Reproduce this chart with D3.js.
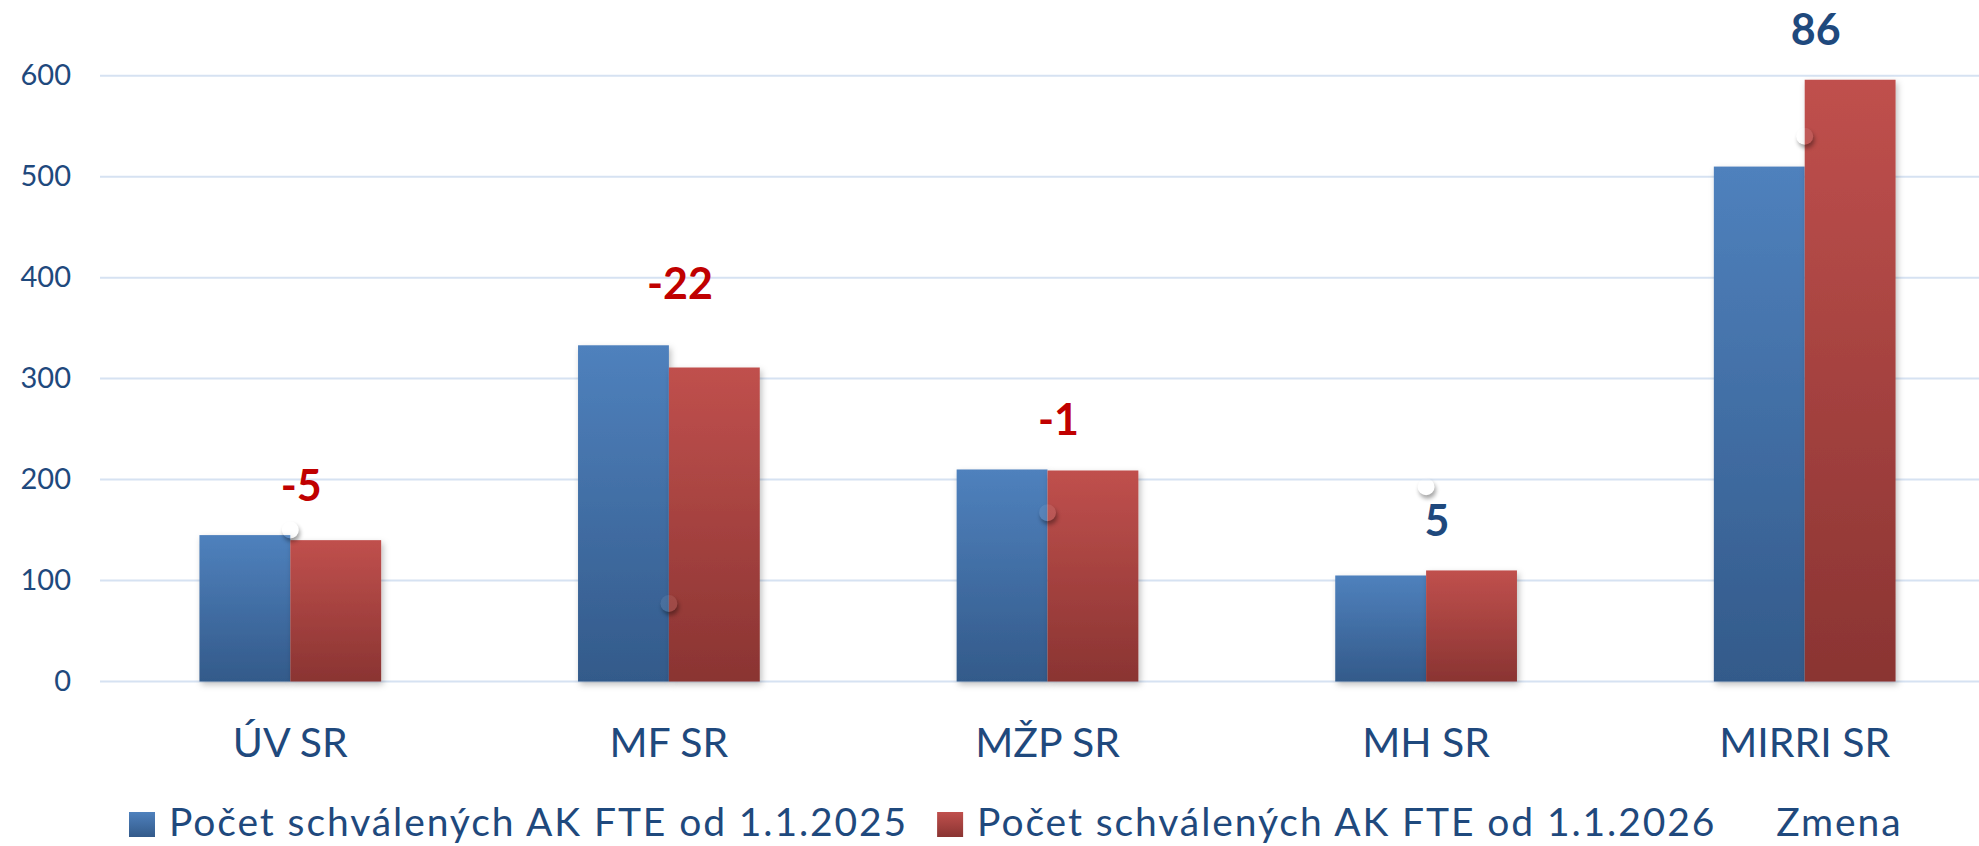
<!DOCTYPE html>
<html><head><meta charset="utf-8">
<script src="https://cdn.jsdelivr.net/npm/d3@7"></script>
<style>html,body{margin:0;padding:0;background:#fff;}svg{display:block;font-family:Lato,"Open Sans",sans-serif;}</style>
</head><body><svg id="chart" width="1979" height="846"></svg>
<script>
const categories = ["ÚV SR", "MF SR", "MŽP SR", "MH SR", "MIRRI SR"];
const series2025 = [145, 333, 210, 105, 510];
const series2026 = [140, 311, 209, 110, 596];
const zmena = [-5, -22, -1, 5, 86];
const yTicks = [0, 100, 200, 300, 400, 500, 600];
const seriesNames = ["Počet schválených AK FTE od 1.1.2025", "Počet schválených AK FTE od 1.1.2026", "Zmena"];

const W = 1979, H = 846;
const svg = d3.select("#chart");
const textColor = "#1F497D";

const plot = {left: 101, right: 1994, top: 75.7, bottom: 681.5};
const y = d3.scaleLinear().domain([0, 600]).range([plot.bottom, plot.top]);
const y2 = d3.scaleLinear().domain([-40, 100]).range([plot.bottom, plot.top]);
const x = d3.scaleBand().domain(categories).range([plot.left, plot.right]).paddingInner(0.52).paddingOuter(0.26);
const xs = d3.scaleBand().domain([0, 1]).range([0, x.bandwidth()]);

const defs = svg.append("defs");
function grad(id, top, bottom) {
  const g = defs.append("linearGradient").attr("id", id).attr("x1", 0).attr("y1", 0).attr("x2", 0).attr("y2", 1);
  g.append("stop").attr("offset", "0%").attr("stop-color", top);
  g.append("stop").attr("offset", "100%").attr("stop-color", bottom);
}
grad("gBlue", "#4F81BD", "#335A8A");
grad("gRed", "#C0504D", "#8A3432");
const f = defs.append("filter").attr("id", "barShadow").attr("x", "-10%").attr("y", "-10%").attr("width", "130%").attr("height", "130%");
f.append("feDropShadow").attr("dx", 2).attr("dy", 3).attr("stdDeviation", 3).attr("flood-color", "#000").attr("flood-opacity", 0.25);
const bf = defs.append("filter").attr("id", "blur").attr("x", "-50%").attr("y", "-50%").attr("width", "200%").attr("height", "200%");
bf.append("feGaussianBlur").attr("stdDeviation", 2.2);

// gridlines
svg.append("g").selectAll("line").data(yTicks).join("line")
  .attr("x1", 100).attr("x2", W).attr("y1", d => y(d)).attr("y2", d => y(d))
  .attr("stroke", "#D6E2F2").attr("stroke-width", 2);

// y axis labels
const yAxis = d3.axisLeft(y).tickValues(yTicks).tickSize(0).tickPadding(0);
const ya = svg.append("g").attr("transform", "translate(71,0)").call(yAxis);
ya.select(".domain").remove();
ya.selectAll("text").attr("font-size", 29).attr("fill", textColor).attr("font-family", "Lato");

// bars
const groups = svg.append("g").selectAll("g").data(categories).join("g")
  .attr("transform", d => `translate(${x(d)},0)`);
const barData = (c, i) => [{s: 0, v: series2025[i]}, {s: 1, v: series2026[i]}];
groups.selectAll("rect").data((c, i) => barData(c, i)).join("rect")
  .attr("x", d => xs(d.s)).attr("width", xs.bandwidth())
  .attr("y", d => y(d.v)).attr("height", d => y(0) - y(d.v))
  .attr("fill", d => d.s === 0 ? "url(#gBlue)" : "url(#gRed)")
  .attr("filter", "url(#barShadow)");

// Zmena markers (transparent marker with shadow)
const r = 8.5;
categories.forEach((c, i) => {
  const cx = x(c) + x.bandwidth() / 2, cy = y2(zmena[i]);
  const m = defs.append("mask").attr("id", "mk" + i).attr("maskUnits", "userSpaceOnUse")
    .attr("x", 0).attr("y", 0).attr("width", W).attr("height", H);
  m.append("rect").attr("width", W).attr("height", H).attr("fill", "#fff");
  m.append("circle").attr("cx", cx).attr("cy", cy).attr("r", r).attr("fill", "#000");
  svg.append("circle").attr("cx", cx + 1.5).attr("cy", cy + 3.5).attr("r", r)
    .attr("fill", "#000").attr("opacity", 0.35).attr("filter", "url(#blur)").attr("mask", `url(#mk${i})`);
  svg.append("circle").attr("cx", cx).attr("cy", cy).attr("r", r).attr("fill", "#fff").attr("fill-opacity", 0.08);
});

// data labels for Zmena
svg.append("g").selectAll("text").data(categories).join("text")
  .attr("x", c => x(c) + x.bandwidth() / 2 + 11)
  .attr("y", (c, i) => y(Math.max(series2025[i], series2026[i])) - 50 - (i === 1 ? 12 : 0))
  .attr("dy", "0.36em")
  .attr("text-anchor", "middle").attr("font-size", 43).attr("font-weight", "bold")
  .attr("fill", (c, i) => zmena[i] < 0 ? "#C00000" : textColor)
  .text((c, i) => zmena[i]);

// category labels
const xAxis = d3.axisBottom(x).tickSize(0).tickPadding(0);
const xa = svg.append("g").attr("transform", `translate(0,742)`).call(xAxis);
xa.select(".domain").remove();
xa.selectAll("text").attr("font-size", 41).attr("fill", textColor).attr("font-family", "Lato").attr("dy", "0.36em");

// legend
const leg = svg.append("g").attr("transform", "translate(129,836)");
const fills = ["url(#gBlue)", "url(#gRed)", null];
const textOffset = [40, 40, 0];
const gapAfter = [29, 60, 0];
let cx0 = 0;
seriesNames.forEach((n, i) => {
  const g = leg.append("g").attr("transform", `translate(${cx0},0)`);
  if (fills[i]) {
    g.append("rect").attr("x", 0).attr("y", -24).attr("width", 26).attr("height", 25).attr("fill", fills[i]);
  }
  const t = g.append("text").attr("x", textOffset[i]).attr("font-size", 39)
    .attr("letter-spacing", 1.9)
    .attr("fill", textColor).text(n);
  cx0 += textOffset[i] + t.node().getComputedTextLength() + gapAfter[i];
});
</script></body></html>
